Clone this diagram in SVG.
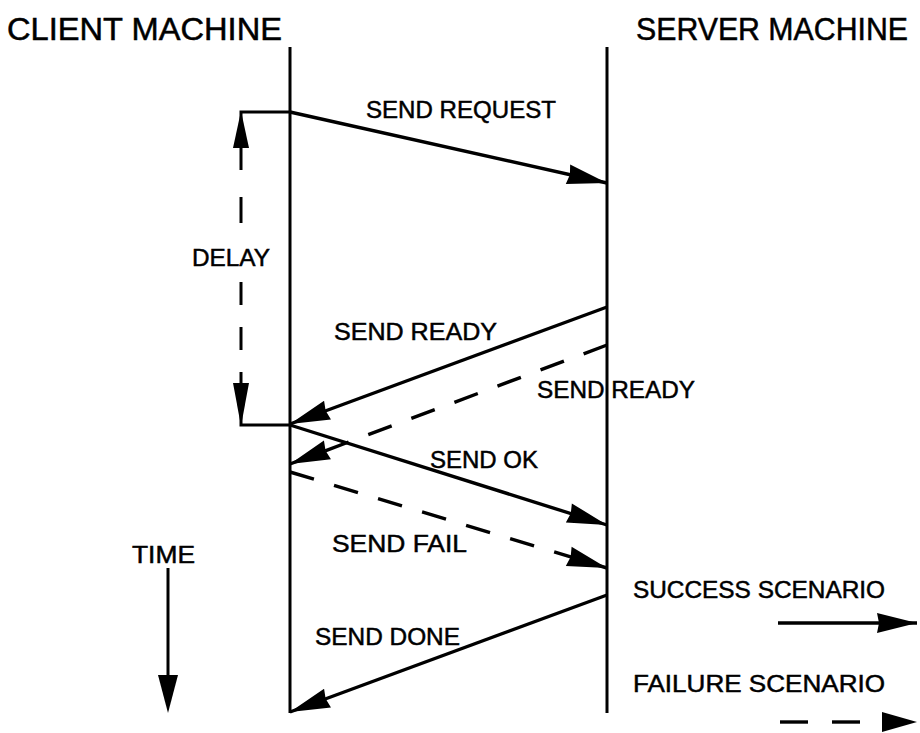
<svg xmlns="http://www.w3.org/2000/svg" width="920" height="733" viewBox="0 0 920 733">
  <style>
    .lbl { font-family: "Liberation Sans", Arial, Helvetica, sans-serif; font-size: 24.5px; fill: #000; stroke: #000; stroke-width: 0.5px; }
    .hdr { font-family: "Liberation Sans", Arial, Helvetica, sans-serif; font-size: 31px; fill: #000; stroke: #000; stroke-width: 0.5px; }
    .life { stroke: #000; stroke-width: 3; fill: none; }
    .msg { stroke: #000; stroke-width: 3.4; fill: none; }
    .dash { stroke-dasharray: 25 21; }
    .thin { stroke: #000; stroke-width: 3; fill: none; }
  </style>
  <defs>
    <marker id="head" markerUnits="userSpaceOnUse" viewBox="-42 -11 44 22" refX="0" refY="0" markerWidth="44" markerHeight="22" orient="auto">
      <path d="M0,0 L-40,-10 L-38,0 L-40,10 Z" fill="#000"/>
    </marker>
  </defs>
  <rect width="920" height="733" fill="#fff"/>

  <!-- machine headings -->
  <g id="client-heading">
    <text class="hdr" x="7" y="40" textLength="275" lengthAdjust="spacingAndGlyphs">CLIENT MACHINE</text>
  </g>
  <g id="server-heading">
    <text class="hdr" x="636" y="40" textLength="272" lengthAdjust="spacingAndGlyphs">SERVER MACHINE</text>
  </g>

  <!-- lifelines -->
  <g id="client-lifeline">
    <line class="life" x1="290" y1="47" x2="290" y2="713"/>
  </g>
  <g id="server-lifeline">
    <line class="life" x1="607" y1="47" x2="607" y2="713"/>
  </g>

  <!-- delay bracket -->
  <g id="delay">
    <polyline class="thin" points="290,112 241,112 241,170"/>
    <path d="M241,111 L233,148 L249,148 Z" fill="#000"/>
    <line class="thin" x1="241" y1="197" x2="241" y2="223"/>
    <line class="thin" x1="241" y1="282" x2="241" y2="305"/>
    <line class="thin" x1="241" y1="327" x2="241" y2="350"/>
    <line class="thin" x1="241" y1="372" x2="241" y2="385"/>
    <path d="M241,426 L233,383 L249,383 Z" fill="#000"/>
    <polyline class="thin" points="241,410 241,425 290,425"/>
    <text class="lbl" x="192" y="266" textLength="78" lengthAdjust="spacingAndGlyphs">DELAY</text>
  </g>

  <!-- time axis -->
  <g id="time">
    <text class="lbl" x="132" y="563" textLength="63" lengthAdjust="spacingAndGlyphs">TIME</text>
    <line class="thin" x1="168" y1="568" x2="168" y2="690"/>
    <path d="M168,713 L158,675 L178,675 Z" fill="#000"/>
  </g>

  <!-- messages -->
  <g id="connectors">
    <line class="msg" x1="290" y1="112" x2="607" y2="183" marker-end="url(#head)"/>
    <line class="msg" x1="607" y1="307" x2="290" y2="424" marker-end="url(#head)"/>
    <line class="msg dash" x1="607" y1="345" x2="290" y2="464" marker-end="url(#head)"/>
    <line class="msg" x1="290" y1="425" x2="607" y2="525" marker-end="url(#head)"/>
    <line class="msg dash" x1="290" y1="472" x2="607" y2="568" marker-end="url(#head)"/>
    <line class="msg" x1="607" y1="595" x2="290" y2="712" marker-end="url(#head)"/>
  </g>

  <!-- message labels -->
  <g id="labels">
    <text class="lbl" x="366" y="118" textLength="190" lengthAdjust="spacingAndGlyphs">SEND REQUEST</text>
    <text class="lbl" x="334" y="340" textLength="163" lengthAdjust="spacingAndGlyphs">SEND READY</text>
    <text class="lbl" x="537" y="398" textLength="158" lengthAdjust="spacingAndGlyphs">SEND READY</text>
    <text class="lbl" x="430" y="468" textLength="108" lengthAdjust="spacingAndGlyphs">SEND OK</text>
    <text class="lbl" x="332" y="552" textLength="135" lengthAdjust="spacingAndGlyphs">SEND FAIL</text>
    <text class="lbl" x="315" y="645" textLength="145" lengthAdjust="spacingAndGlyphs">SEND DONE</text>
  </g>

  <!-- legend -->
  <g id="legend">
    <text class="lbl" x="633" y="598" textLength="252" lengthAdjust="spacingAndGlyphs">SUCCESS SCENARIO</text>
    <line class="msg" x1="778" y1="623" x2="917" y2="623" marker-end="url(#head)"/>
    <text class="lbl" x="633" y="692" textLength="252" lengthAdjust="spacingAndGlyphs">FAILURE SCENARIO</text>
    <line class="msg" x1="780" y1="722" x2="808" y2="722"/>
    <line class="msg" x1="832" y1="722" x2="860" y2="722"/>
    <path d="M917,722 L882,712 L882,732 Z" fill="#000"/>
  </g>
</svg>
